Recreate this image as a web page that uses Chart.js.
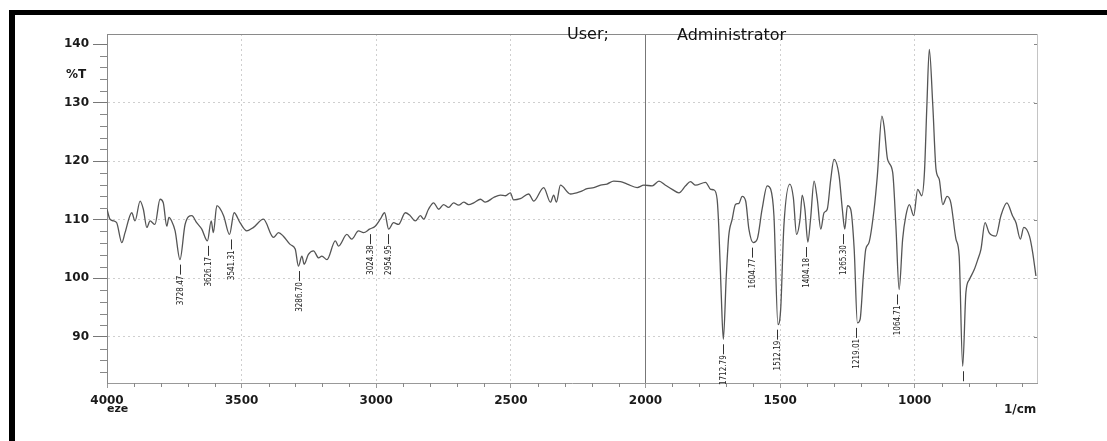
<!DOCTYPE html>
<html lang="en">
<head>
    <meta charset="UTF-8">
    <title>IR Spectrum %T</title>
    <script src="https://cdn.jsdelivr.net/npm/chart.js"></script>
    <style>
        body {
            margin: 0;
            background: #fff;
        }
        .page {
            position: relative;
            width: 1107px;
            height: 441px;
            overflow: hidden;
            background: #fff;
        }
        .scan-edge {
            position: absolute;
            left: 9px;
            top: 10px;
            width: 1100px;
            height: 440px;
            border-top: 5px solid #000;
            border-left: 6px solid #000;
            pointer-events: none;
        }
        canvas {
            position: absolute;
            left: 0;
            top: 0;
        }
    </style>
</head>
<body>
<div class="page">
    <canvas id="spectrum" width="1107" height="441"></canvas>
    <div class="scan-edge"></div>
</div>

<script>
    // spectrum (1/cm, %T)
    const wavenumber = [
        4000, 3989, 3975, 3964, 3945, 3933, 3908, 3896, 3877, 3865, 3852, 3840, 3822, 3803, 3791, 3778,
        3770, 3760, 3747, 3729, 3710, 3685, 3667, 3648, 3627, 3613, 3605, 3592, 3567, 3545, 3528, 3506,
        3481, 3456, 3419, 3382, 3363, 3345, 3320, 3301, 3289, 3276, 3268, 3252, 3233, 3214, 3202, 3183,
        3152, 3140, 3109, 3091, 3066, 3047, 3025, 3004, 2985, 2969, 2954, 2936, 2917, 2892, 2874, 2855,
        2836, 2824, 2806, 2787, 2768, 2750, 2731, 2713, 2694, 2675, 2657, 2638, 2613, 2595, 2564, 2539,
        2520, 2502, 2490, 2465, 2434, 2415, 2378, 2353, 2341, 2331, 2316, 2279, 2242, 2217, 2192, 2167,
        2143, 2118, 2093, 2068, 2031, 2006, 1975, 1950, 1926, 1901, 1876, 1851, 1833, 1814, 1777, 1758,
        1746, 1734, 1728, 1719, 1711, 1700, 1691, 1678, 1666, 1653, 1641, 1628, 1616, 1600, 1585, 1567,
        1548, 1535, 1523, 1508, 1498, 1486, 1464, 1451, 1439, 1426, 1418, 1408, 1397, 1387, 1374, 1362,
        1349, 1337, 1325, 1312, 1300, 1281, 1269, 1260, 1250, 1238, 1225, 1213, 1203, 1191, 1182, 1170,
        1151, 1139, 1122, 1114, 1101, 1082, 1070, 1058, 1045, 1033, 1020, 1004, 989, 974, 964, 955,
        946, 933, 921, 909, 896, 880, 866, 847, 835, 822, 810, 797, 779, 766, 754, 739,
        724, 699, 680, 658, 637, 624, 608, 595, 574, 562, 550
    ];
    const transmittance = [
        111.8, 110.1, 109.8, 109.5, 106.1, 107.8, 111.2, 109.8, 113.2, 111.8, 108.7, 109.8, 109.2, 113.5, 112.9, 108.9,
        110.4, 109.8, 108.1, 103.2, 109.2, 110.7, 109.5, 108.4, 106.4, 109.8, 107.8, 112.4, 110.7, 107.5, 111.2, 109.5,
        108.1, 108.7, 110.1, 107.0, 107.8, 107.2, 105.8, 105.0, 102.1, 103.8, 102.4, 104.1, 104.7, 103.5, 103.8, 103.2,
        106.4, 105.5, 107.5, 106.7, 108.1, 107.8, 108.4, 108.9, 110.1, 111.2, 108.4, 109.5, 109.2, 111.2, 110.7, 109.8,
        110.7, 110.1, 111.8, 112.9, 111.8, 112.6, 112.1, 112.9, 112.5, 113.0, 112.6, 112.9, 113.5, 113.0, 113.8, 114.2,
        114.1, 114.6, 113.4, 113.6, 114.4, 113.2, 115.5, 113.0, 114.2, 113.0, 115.9, 114.4, 114.8, 115.3, 115.5, 115.9,
        116.1, 116.6, 116.5, 116.1, 115.5, 115.9, 115.8, 116.6, 115.9, 115.2, 114.6, 115.8, 116.5, 115.9, 116.4, 115.2,
        115.1, 113.5, 108.9, 97.6, 89.6, 100.4, 107.2, 110.1, 112.6, 112.8, 114.0, 113.2, 108.4, 106.1, 106.7, 111.8,
        115.8, 115.2, 110.7, 92.1, 94.7, 109.0, 116.1, 113.8, 107.5, 110.1, 114.2, 111.8, 106.2, 110.1, 116.6, 113.5,
        108.4, 111.2, 111.8, 116.9, 120.3, 117.5, 111.8, 108.4, 112.4, 111.8, 105.0, 92.4, 93.0, 100.4, 105.0, 106.1,
        111.8, 117.5, 127.7, 126.0, 120.3, 118.1, 108.9, 98.1, 106.7, 110.7, 112.6, 110.7, 115.2, 114.1, 118.1, 129.5,
        139.1, 129.5, 118.6, 116.9, 112.6, 114.0, 112.9, 106.7, 103.8, 85.0, 97.6, 99.8, 101.5, 103.2, 105.0, 109.5,
        107.8, 107.2, 110.7, 112.9, 110.7, 109.5, 106.7, 108.7, 107.2, 104.4, 100.4
    ];

    // peak picks printed under the dips
    const peakWavenumber = [3728.47, 3626.17, 3541.31, 3286.70, 3024.38, 2954.95, 1712.79, 1604.77, 1512.19, 1404.18, 1265.30, 1219.01, 1064.71, 822];
    const peakLevel = [103.2, 106.4, 107.5, 102.1, 108.4, 108.4, 89.6, 106.1, 92.1, 106.2, 108.4, 92.4, 98.1, 85.0];
    const peakText = ['3728.47', '3626.17', '3541.31', '3286.70', '3024.38', '2954.95', '1712.79', '1604.77', '1512.19', '1404.18', '1265.30', '1219.01', '1064.71', ''];

    const xTicks = [4000, 3500, 3000, 2500, 2000, 1500, 1000];
    const yTicks = [90, 100, 110, 120, 130, 140];

    const labelFont = 'bold 12px "DejaVu Sans", Arial, sans-serif';

    const decorPlugin = {
        id: 'decor',
        afterDatasetsDraw(chart) {
            const ctx = chart.ctx;
            const area = chart.chartArea;
            const xs = chart.scales.x;
            const ys = chart.scales.y;
            ctx.save();

            // frame top + right
            ctx.lineWidth = 1;
            ctx.strokeStyle = '#8a8a8a';
            ctx.beginPath();
            ctx.moveTo(area.left, area.top + 0.5);
            ctx.lineTo(area.right, area.top + 0.5);
            ctx.stroke();
            ctx.strokeStyle = '#c4c4c4';
            ctx.beginPath();
            ctx.moveTo(area.right + 0.5, area.top);
            ctx.lineTo(area.right + 0.5, area.bottom);
            ctx.stroke();

            // minor ticks
            ctx.strokeStyle = '#888';
            ctx.beginPath();
            for (let v = 84; v <= 140; v += 2) {
                if (v % 10 === 0) continue;
                const y = Math.round(ys.getPixelForValue(v)) + 0.5;
                ctx.moveTo(area.left - 7, y);
                ctx.lineTo(area.left, y);
            }
            for (let v = 600; v < 4000; v += 100) {
                if (v % 500 === 0) continue;
                const x = Math.round(xs.getPixelForValue(v)) + 0.5;
                ctx.moveTo(x, area.bottom);
                ctx.lineTo(x, area.bottom + 4);
            }
            yTicks.forEach(v => {
                const y = Math.round(ys.getPixelForValue(v)) + 0.5;
                ctx.moveTo(area.right - 3, y);
                ctx.lineTo(area.right, y);
            });
            ctx.stroke();

            // peak labels: short dash then rotated number
            ctx.strokeStyle = '#333';
            ctx.fillStyle = '#222';
            ctx.font = '8px "Liberation Sans Narrow", "DejaVu Sans Condensed", sans-serif';
            peakWavenumber.forEach((wn, i) => {
                const x = Math.round(xs.getPixelForValue(wn)) + 0.5;
                const top = ys.getPixelForValue(peakLevel[i]) + 5;
                const dashEnd = Math.min(top + 10, area.bottom);
                ctx.beginPath();
                ctx.moveTo(x, top);
                ctx.lineTo(x, dashEnd);
                ctx.stroke();
                if (peakText[i]) {
                    ctx.save();
                    ctx.translate(x, dashEnd + 1);
                    ctx.rotate(-Math.PI / 2);
                    ctx.textAlign = 'right';
                    ctx.textBaseline = 'middle';
                    ctx.fillText(peakText[i], 0, 0);
                    ctx.restore();
                }
            });

            // loose text on the sheet
            ctx.fillStyle = '#1a1a1a';
            ctx.font = labelFont;
            ctx.textBaseline = 'alphabetic';
            ctx.textAlign = 'center';
            ctx.fillText('%T', 76, 78);
            ctx.textAlign = 'left';
            ctx.font = 'bold 11px "DejaVu Sans", Arial, sans-serif';
            ctx.fillText('eze', 107, 412);
            ctx.font = labelFont;
            ctx.fillText('1/cm', 1004, 413);

            ctx.font = '16px "DejaVu Sans", Arial, sans-serif';
            ctx.fillStyle = '#111';
            ctx.fillText('User;', 567, 39);
            ctx.fillText('Administrator', 677, 40);
            ctx.restore();
        }
    };

    document.addEventListener('DOMContentLoaded', () => {
        const ctx = document.getElementById('spectrum').getContext('2d');
        new Chart(ctx, {
            type: 'line',
            data: {
                datasets: [{
                    label: '%T',
                    data: wavenumber.map((w, i) => ({ x: w, y: transmittance[i] })),
                    borderColor: '#555',
                    borderWidth: 1.3,
                    pointRadius: 0,
                    fill: false,
                    cubicInterpolationMode: 'monotone'
                }]
            },
            options: {
                responsive: false,
                devicePixelRatio: 1,
                animation: false,
                layout: {
                    padding: { left: 0, right: 70, top: 34, bottom: 0 }
                },
                plugins: {
                    legend: { display: false },
                    tooltip: { enabled: false }
                },
                scales: {
                    x: {
                        type: 'linear',
                        reverse: true,
                        min: 546,
                        max: 4000,
                        afterBuildTicks: scale => {
                            scale.ticks = xTicks.map(v => ({ value: v }));
                        },
                        afterFit: scale => {
                            scale.height = 58;
                        },
                        ticks: {
                            color: '#1a1a1a',
                            font: { family: '"DejaVu Sans", Arial, sans-serif', size: 12, weight: 'bold' },
                            padding: 6,
                            maxRotation: 0,
                            autoSkip: false,
                            callback: v => String(v)
                        },
                        grid: {
                            color: c => (c.tick && c.tick.value === 2000) ? '#777' : '#cfcfcf',
                            lineWidth: 1,
                            tickLength: 5,
                            tickColor: '#999'
                        },
                        border: {
                            color: '#999',
                            dash: c => (c.tick && c.tick.value === 2000) ? [] : [2, 3]
                        }
                    },
                    y: {
                        min: 82.14,
                        max: 141.71,
                        afterBuildTicks: scale => {
                            scale.ticks = yTicks.map(v => ({ value: v }));
                        },
                        afterFit: scale => {
                            scale.width = 107;
                        },
                        ticks: {
                            color: '#1a1a1a',
                            font: { family: '"DejaVu Sans", Arial, sans-serif', size: 12, weight: 'bold' },
                            padding: 4,
                            callback: v => String(v)
                        },
                        grid: {
                            color: c => (c.tick && c.tick.value === 140) ? 'rgba(0,0,0,0)' : '#cfcfcf',
                            lineWidth: 1,
                            tickLength: 14,
                            tickColor: '#777'
                        },
                        border: {
                            color: '#888',
                            dash: [2, 3]
                        }
                    }
                }
            },
            plugins: [decorPlugin]
        });
    });
</script>
</body>
</html>
